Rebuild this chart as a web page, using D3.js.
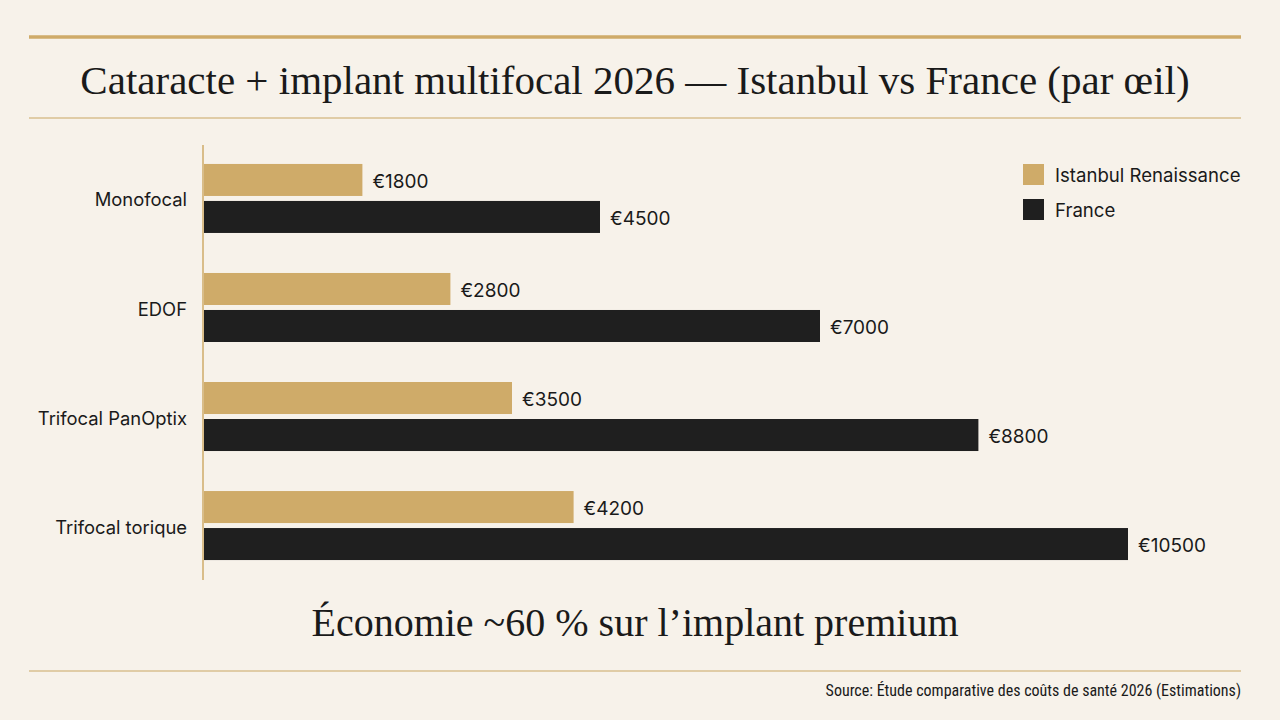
<!DOCTYPE html>
<html>
  <head>
    <meta charset="utf-8">
    <title>Cataracte + implant multifocal 2026</title>
    <script src="https://d3js.org/d3.v7.min.js" charset="utf-8"></script>
    <style type="text/css">
      html, body { margin: 0; padding: 0; background: #f7f2ea; }
      svg { display: block; }
    </style>
  </head>
  <body>
    <script type="text/javascript">

      // Data
      var categories = ["Monofocal", "EDOF", "Trifocal PanOptix", "Trifocal torique"];
      var series = ["Istanbul Renaissance", "France"];
      var istanbul = [1800, 2800, 3500, 4200];
      var france = [4500, 7000, 8800, 10500];
      var colors = ["#cfab69", "#1f1f1f"];

      var title = "Cataracte + implant multifocal 2026 \u2014 Istanbul vs France (par \u0153il)";
      var subtitle = "\u00c9conomie ~60\u00a0% sur l\u2019implant premium";
      var source = "Source: \u00c9tude comparative des co\u00fbts de sant\u00e9 2026 (Estimations)";

      var width = 1280, height = 720;
      var gold = "#cfab69";
      var serif = "'Liberation Serif', 'DejaVu Serif', serif";
      var sans = "Inter, Roboto, 'Noto Sans', sans-serif";

      var svg = d3.select("body").append("svg")
          .attr("width", width)
          .attr("height", height);

      svg.append("rect")
          .attr("width", width).attr("height", height)
          .attr("fill", "#f7f2ea");

      // Rules
      svg.append("line").attr("x1", 29).attr("x2", 1241).attr("y1", 37).attr("y2", 37)
          .attr("stroke", gold).attr("stroke-width", 3.5);
      svg.append("line").attr("x1", 29).attr("x2", 1241).attr("y1", 118).attr("y2", 118)
          .attr("stroke", "#d9bf8f").attr("stroke-width", 1.5);
      svg.append("line").attr("x1", 29).attr("x2", 1241).attr("y1", 671).attr("y2", 671)
          .attr("stroke", "#d9bf8f").attr("stroke-width", 1.5);

      // Title
      svg.append("text")
          .attr("x", 635).attr("y", 94)
          .attr("text-anchor", "middle")
          .style("font-family", serif)
          .style("font-size", "41px")
          .attr("fill", "#1a1a1a")
          .text(title);

      // Scales
      var x = d3.scaleLinear().domain([0, 10500]).range([204, 1128]);
      var y = d3.scaleBand().domain(categories).range([144, 580])
          .paddingInner(0.367).paddingOuter(0.183);
      var ySub = d3.scaleBand().domain(series).range([0, y.bandwidth()])
          .paddingInner(0.135);

      var rows = categories.map(function(c, i) {
        return { cat: c, values: [istanbul[i], france[i]] };
      });

      var groups = svg.selectAll("g.group").data(rows).enter()
          .append("g")
          .attr("class", "group")
          .attr("transform", function(d) { return "translate(0," + y(d.cat) + ")"; });

      groups.selectAll("rect").data(function(d) {
            return d.values.map(function(v, j) { return { s: series[j], v: v, j: j }; });
          }).enter()
          .append("rect")
          .attr("x", x(0))
          .attr("y", function(d) { return ySub(d.s); })
          .attr("width", function(d) { return x(d.v) - x(0); })
          .attr("height", ySub.bandwidth())
          .attr("fill", function(d) { return colors[d.j]; });

      groups.selectAll("text.val").data(function(d) {
            return d.values.map(function(v, j) { return { s: series[j], v: v }; });
          }).enter()
          .append("text")
          .attr("class", "val")
          .attr("x", function(d) { return x(d.v) + 10; })
          .attr("y", function(d) { return ySub(d.s) + ySub.bandwidth() / 2 + 3; })
          .attr("dominant-baseline", "middle")
          .style("font-family", sans)
          .style("font-size", "19px")
          .attr("fill", "#1a1a1a")
          .text(function(d) { return "\u20ac" + d.v; });

      // Category labels
      svg.selectAll("text.cat").data(categories).enter()
          .append("text")
          .attr("class", "cat")
          .attr("x", 187)
          .attr("y", function(d) { return y(d) + y.bandwidth() / 2 + 3; })
          .attr("text-anchor", "end")
          .attr("dominant-baseline", "middle")
          .style("font-family", sans)
          .style("font-size", "18.4px")
          .attr("fill", "#1a1a1a")
          .text(function(d) { return d; });

      // Axis line
      svg.append("line")
          .attr("x1", 203).attr("x2", 203).attr("y1", 145).attr("y2", 580)
          .attr("stroke", gold).attr("stroke-width", 1.5);

      // Legend
      var legend = svg.selectAll("g.legend").data(series).enter()
          .append("g")
          .attr("class", "legend")
          .attr("transform", function(d, i) { return "translate(1023," + (164 + i * 35) + ")"; });
      legend.append("rect")
          .attr("width", 21).attr("height", 21)
          .attr("fill", function(d, i) { return colors[i]; });
      legend.append("text")
          .attr("x", 32).attr("y", 13)
          .attr("dominant-baseline", "middle")
          .style("font-family", sans)
          .style("font-size", "18.6px")
          .attr("fill", "#1a1a1a")
          .text(function(d) { return d; });

      // Subtitle
      svg.append("text")
          .attr("x", 635).attr("y", 636)
          .attr("text-anchor", "middle")
          .style("font-family", serif)
          .style("font-size", "40px")
          .attr("fill", "#1a1a1a")
          .text(subtitle);

      // Source
      svg.append("text")
          .attr("x", 1241).attr("y", 696)
          .attr("text-anchor", "end")
          .style("font-family", "'Liberation Sans Narrow', 'Roboto Condensed', Roboto, sans-serif")
          .style("font-size", "16px")
          .attr("fill", "#1a1a1a")
          .text(source);

    </script>
  </body>
</html>
